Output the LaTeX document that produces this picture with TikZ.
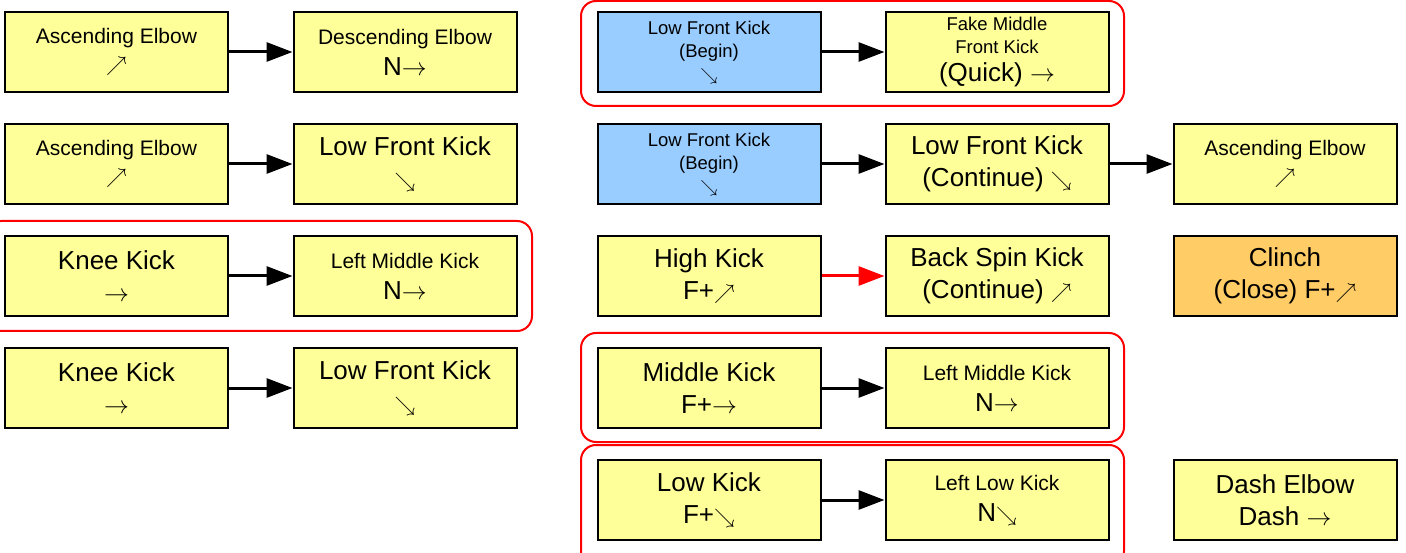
\documentclass[tikz,border=0pt]{standalone}
\usepackage{fontspec}
\setmainfont{Liberation Sans}
\usetikzlibrary{arrows.meta}
\definecolor{boxyellow}{RGB}{255,255,153}
\definecolor{boxblue}{RGB}{153,204,255}
\definecolor{boxorange}{RGB}{255,204,102}
\newcommand\txtS{\fontsize{21}{24}\selectfont}
\newcommand\txtL{\fontsize{26}{32}\selectfont}
\newcommand\txtXS{\fontsize{18.5}{23}\selectfont}
% diagonal direction arrows, set a little smaller inside large lines
\newcommand\upR{{\fontsize{20}{22}\selectfont$\nearrow$}}
\newcommand\downR{{\fontsize{20}{22}\selectfont$\searrow$}}
\tikzset{
  move/.style={draw=black, line width=2pt, fill=boxyellow, minimum width=223pt,
    minimum height=80pt, inner sep=0pt, align=center, font=\txtS},
  begin/.style={move, fill=boxblue, font=\txtXS},
  close/.style={move, fill=boxorange, font=\txtL},
  combo/.style={draw=red, line width=2pt, rounded corners=15pt},
  link/.style={line width=3pt, -{Triangle[length=26pt,width=19pt]}},
}
\begin{document}
\begin{tikzpicture}[x=1pt,y=-1pt]
\useasboundingbox (0,0) rectangle (1406,553);
\fill[white] (0,0) rectangle (1406,553);

% combo groups
\draw[combo] (581,1) rectangle (1124,106);
\draw[combo] (-14,221) rectangle (532,331);
\draw[combo] (581,333) rectangle (1124,442);
\draw[combo] (581,445) rectangle (1124,566);

% left column
\node[move] (a1) at (116.5,52) {Ascending Elbow\\[4pt]$\nearrow$};
\node[move] (b1) at (405,52) {Descending Elbow\\[7pt]{\txtL N$\rightarrow$}};
\node[move] (a2) at (116.5,164) {Ascending Elbow\\[4pt]$\nearrow$};
\node[move, font=\txtL] (b2) at (405,164) {Low Front Kick\\\downR};
\node[move, font=\txtL] (a3) at (116.5,276) {Knee Kick\\$\rightarrow$};
\node[move] (b3) at (405,276) {Left Middle Kick\\[7pt]{\txtL N$\rightarrow$}};
\node[move, font=\txtL] (a4) at (116.5,388) {Knee Kick\\$\rightarrow$};
\node[move, font=\txtL] (b4) at (405,388) {Low Front Kick\\\downR};

% right columns
\node[begin] (c1) at (709,52) {Low Front Kick\\(Begin)\\$\searrow$};
\node[move, font=\txtXS] (d1) at (997,52) {Fake Middle\\Front Kick\\[5pt]{\txtL (Quick) $\rightarrow$}};
\node[begin] (c2) at (709,164) {Low Front Kick\\(Begin)\\$\searrow$};
\node[move, font=\txtL] (d2) at (997,164) {Low Front Kick\\(Continue) \downR};
\node[move] (e2) at (1285,164) {Ascending Elbow\\[4pt]$\nearrow$};
\node[move, font=\txtL] (c3) at (709,276) {High Kick\\F+\upR};
\node[move, font=\txtL] (d3) at (997,276) {Back Spin Kick\\(Continue) \upR};
\node[close] (e3) at (1285,276) {Clinch\\(Close) F+\upR};
\node[move, font=\txtL] (c4) at (709,388) {Middle Kick\\F+$\rightarrow$};
\node[move] (d4) at (997,388) {Left Middle Kick\\[7pt]{\txtL N$\rightarrow$}};
\node[move, font=\txtL] (c5) at (709,500) {Low Kick\\F+\downR};
\node[move] (d5) at (997,500) {Left Low Kick\\[7pt]{\txtL N\downR}};
\node[move, font=\txtL] (e5) at (1285,500) {Dash Elbow\\Dash $\rightarrow$};

% transitions
\draw[link] (a1) -- (b1);
\draw[link] (a2) -- (b2);
\draw[link] (a3) -- (b3);
\draw[link] (a4) -- (b4);
\draw[link] (c1) -- (d1);
\draw[link] (c2) -- (d2);
\draw[link] (d2) -- (e2);
\draw[link, red] (c3) -- (d3);
\draw[link] (c4) -- (d4);
\draw[link] (c5) -- (d5);
\end{tikzpicture}
\end{document}
